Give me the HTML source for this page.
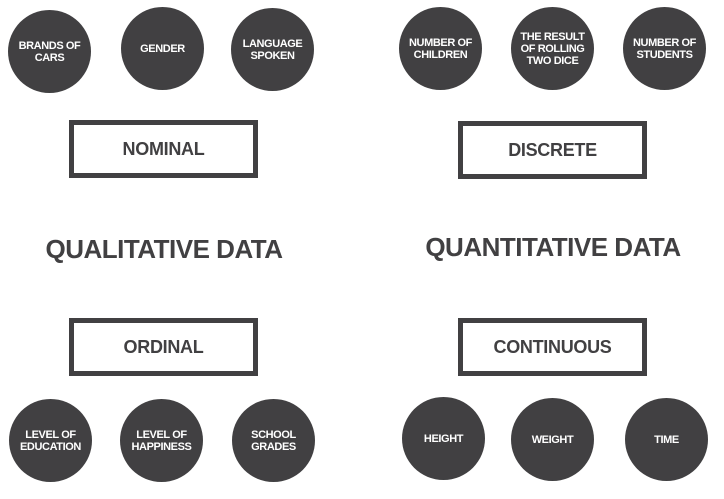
<!DOCTYPE html>
<html><head><meta charset="utf-8"><style>
body{margin:0;width:724px;height:499px;background:#fff;position:relative;overflow:hidden;font-family:"Liberation Sans",sans-serif;font-weight:bold;}
.c{position:absolute;width:83px;height:83px;border-radius:50%;background:#414042;color:#fff;display:flex;align-items:center;justify-content:center;text-align:center;font-size:11px;line-height:12px;letter-spacing:-0.4px;}
.b{position:absolute;width:179px;height:48px;border:5px solid #414042;color:#414042;display:flex;align-items:center;justify-content:center;font-size:18px;letter-spacing:-0.3px;}
.t{position:absolute;color:#414042;font-size:26px;letter-spacing:-0.5px;text-align:center;width:300px;}
</style></head><body>
<div class="c" style="left:8px;top:10px">BRANDS OF<br>CARS</div>
<div class="c" style="left:121px;top:7px">GENDER</div>
<div class="c" style="left:231px;top:8px">LANGUAGE<br>SPOKEN</div>
<div class="c" style="left:399px;top:7px">NUMBER OF<br>CHILDREN</div>
<div class="c" style="left:511px;top:7px">THE RESULT<br>OF ROLLING<br>TWO DICE</div>
<div class="c" style="left:623px;top:7px">NUMBER OF<br>STUDENTS</div>
<div class="b" style="left:69px;top:120px">NOMINAL</div>
<div class="b" style="left:458px;top:121px">DISCRETE</div>
<div class="t" style="left:14px;top:234px">QUALITATIVE DATA</div>
<div class="t" style="left:403px;top:232px">QUANTITATIVE DATA</div>
<div class="b" style="left:69px;top:318px">ORDINAL</div>
<div class="b" style="left:458px;top:318px">CONTINUOUS</div>
<div class="c" style="left:9px;top:399px">LEVEL OF<br>EDUCATION</div>
<div class="c" style="left:120px;top:399px">LEVEL OF<br>HAPPINESS</div>
<div class="c" style="left:232px;top:399px">SCHOOL<br>GRADES</div>
<div class="c" style="left:402px;top:397px">HEIGHT</div>
<div class="c" style="left:511px;top:398px">WEIGHT</div>
<div class="c" style="left:625px;top:398px">TIME</div>
</body></html>
